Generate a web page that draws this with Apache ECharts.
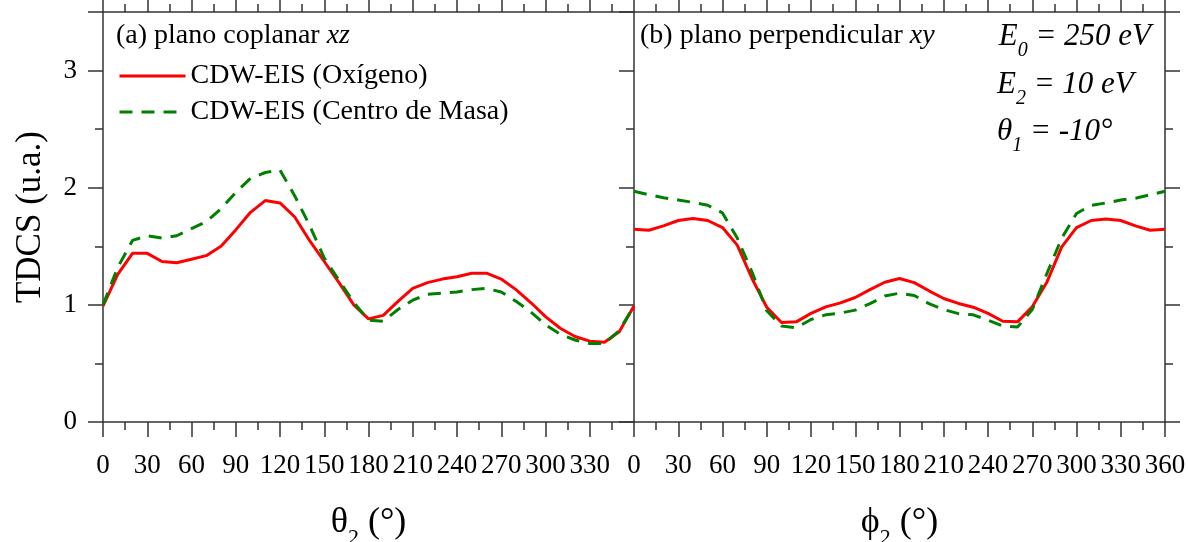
<!DOCTYPE html>
<html>
<head>
<meta charset="utf-8">
<script src="https://cdn.jsdelivr.net/npm/echarts@6/dist/echarts.min.js"></script>
<style>
html,body{margin:0;padding:0;background:#fff;}
#chart{width:1188px;height:542px;}
</style>
</head>
<body>
<div id="chart"></div>
<script>
// ---- data ----
const angles = [0,10,20,30,40,50,60,70,80,90,100,110,120,130,140,150,160,170,180,190,200,210,220,230,240,250,260,270,280,290,300,310,320,330,340,350,360];
const xTicks = [0,30,60,90,120,150,180,210,240,270,300,330,360];
const yTicks = [0,1,2,3];
// (a) plano coplanar xz
const redLeft = [0.99,1.26,1.44,1.44,1.37,1.36,1.39,1.42,1.50,1.64,1.79,1.89,1.87,1.75,1.55,1.37,1.19,1.00,0.88,0.91,1.03,1.14,1.19,1.22,1.24,1.27,1.27,1.22,1.13,1.02,0.90,0.80,0.73,0.69,0.68,0.77,0.99];
const greenLeft = [1.00,1.32,1.55,1.59,1.57,1.59,1.65,1.71,1.82,1.96,2.08,2.13,2.15,1.93,1.68,1.40,1.21,1.02,0.87,0.86,0.96,1.04,1.09,1.10,1.11,1.13,1.14,1.11,1.03,0.94,0.83,0.75,0.70,0.67,0.67,0.78,0.99];
// (b) plano perpendicular xy
const redRight = [1.645,1.637,1.674,1.72,1.737,1.72,1.66,1.51,1.225,0.98,0.85,0.855,0.927,0.983,1.017,1.063,1.13,1.193,1.225,1.19,1.12,1.054,1.012,0.98,0.927,0.86,0.855,0.983,1.196,1.495,1.66,1.72,1.733,1.72,1.674,1.637,1.645];
const greenRight = [1.97,1.94,1.915,1.895,1.875,1.85,1.785,1.57,1.28,0.95,0.82,0.805,0.875,0.915,0.93,0.955,1.01,1.075,1.10,1.08,1.01,0.96,0.925,0.915,0.87,0.82,0.81,0.96,1.27,1.57,1.78,1.85,1.87,1.895,1.91,1.94,1.97];
const seriesNames = ['CDW-EIS (Oxígeno)','CDW-EIS (Centro de Masa)'];

const FONT = '"Liberation Serif", "Times New Roman", serif';
const AX = '#333';
const pairs = arr => angles.map((a,i)=>[a, arr[i]]);

function xAx(grid, pos, labels, name, showMax){
  return {
    type:'value', gridIndex:grid, position:pos, min:0, max:360, interval:30,
    axisLine:{show:true, onZero:false, lineStyle:{color:AX, width:1.5}},
    axisTick:{show:true, inside:false, length:15, lineStyle:{color:AX, width:1.5}},
    minorTick:{show:true, splitNumber:2, length:8, lineStyle:{color:AX, width:1.5}},
    splitLine:{show:false}, minorSplitLine:{show:false},
    axisLabel:{show:labels, margin:30, fontFamily:FONT, fontSize:27, color:'#000',
      showMinLabel:true, showMaxLabel:showMax},
    name: name || '', nameLocation:'middle', nameGap:75,
    nameTextStyle:{fontFamily:FONT, fontSize:36, color:'#000',
      rich:{g:{fontFamily:FONT,fontSize:36,lineHeight:40,color:'#000'},
            s:{fontFamily:FONT,fontSize:22,lineHeight:52,verticalAlign:'bottom',color:'#000'}}}
  };
}
function yAx(grid, pos, labels, name){
  return {
    type:'value', gridIndex:grid, position:pos, min:0, max:3.5, interval:1,
    axisLine:{show:true, onZero:false, lineStyle:{color:AX, width:1.5}},
    axisTick:{show:true, inside:false, length:15, lineStyle:{color:AX, width:1.5}},
    minorTick:{show:true, splitNumber:2, length:8, lineStyle:{color:AX, width:1.5}},
    splitLine:{show:false}, minorSplitLine:{show:false},
    axisLabel:{show:labels, margin:26, fontFamily:FONT, fontSize:27, color:'#000',
      showMaxLabel:false,
      formatter: v => (yTicks.indexOf(v) >= 0 ? String(v) : '')},
    name: name || '', nameLocation:'middle', nameGap:55, nameRotate:90,
    nameTextStyle:{fontFamily:FONT, fontSize:35, color:'#000'}
  };
}

const chart = echarts.init(document.getElementById('chart'), null, {renderer:'canvas'});
const option = {
  backgroundColor:'#fff',
  animation:false,
  grid:[
    {left:103, top:12, width:531, height:410, containLabel:false, outerBoundsMode:'none'},
    {left:634, top:12, width:531, height:410, containLabel:false, outerBoundsMode:'none'}
  ],
  xAxis:[
    xAx(0,'bottom',true,'{g|θ}{s|2}{g| (°)}',false),
    xAx(0,'top',false,'',false),
    xAx(1,'bottom',true,'{g|ϕ}{s|2}{g| (°)}',true),
    xAx(1,'top',false,'',false)
  ],
  yAxis:[
    yAx(0,'left',true,'TDCS (u.a.)'),
    yAx(1,'left',false,''),
    yAx(1,'right',false,'')
  ],
  legend:{
    data:seriesNames, orient:'vertical', left:113, top:57, itemGap:8,
    itemWidth:66, itemHeight:14,
    itemStyle:{color:'transparent', borderColor:'transparent', borderWidth:0},
    lineStyle:{width:3},
    textStyle:{fontFamily:FONT, fontSize:28, color:'#000'}
  },
  series:[
    {name:seriesNames[0], type:'line', xAxisIndex:0, yAxisIndex:0, data:pairs(redLeft),
      symbol:'none', lineStyle:{color:'#ff0000', width:3}, itemStyle:{color:'#ff0000'}},
    {name:seriesNames[1], type:'line', xAxisIndex:0, yAxisIndex:0, data:pairs(greenLeft),
      symbol:'none', lineStyle:{color:'#008000', width:3, type:[13,9]}, itemStyle:{color:'#008000'}},
    {name:seriesNames[0], type:'line', xAxisIndex:2, yAxisIndex:1, data:pairs(redRight),
      symbol:'none', lineStyle:{color:'#ff0000', width:3}, itemStyle:{color:'#ff0000'}},
    {name:seriesNames[1], type:'line', xAxisIndex:2, yAxisIndex:1, data:pairs(greenRight),
      symbol:'none', lineStyle:{color:'#008000', width:3, type:[13,9]}, itemStyle:{color:'#008000'}}
  ],
  graphic:[
    {type:'text', left:116, top:22, style:{
      text:'{n|(a) plano coplanar }{i|xz}',
      rich:{n:{fontFamily:FONT,fontSize:28,fill:'#000'}, i:{fontFamily:FONT,fontSize:28,fontStyle:'italic',fill:'#000'}}}},
    {type:'text', left:640, top:22, style:{
      text:'{n|(b) plano perpendicular }{i|xy}',
      rich:{n:{fontFamily:FONT,fontSize:28,fill:'#000'}, i:{fontFamily:FONT,fontSize:28,fontStyle:'italic',fill:'#000'}}}},
    {type:'text', right:37, top:21, style:{
      text:'{i|E}{s|0}{i| = 250 eV}',
      rich:{i:{fontFamily:FONT,fontSize:31,fontStyle:'italic',lineHeight:35,fill:'#000'},
            s:{fontFamily:FONT,fontSize:20,fontStyle:'italic',lineHeight:49,verticalAlign:'bottom',fill:'#000'}}}},
    {type:'text', left:997, top:69, style:{
      text:'{i|E}{s|2}{i| = 10 eV}',
      rich:{i:{fontFamily:FONT,fontSize:31,fontStyle:'italic',lineHeight:35,fill:'#000'},
            s:{fontFamily:FONT,fontSize:20,fontStyle:'italic',lineHeight:49,verticalAlign:'bottom',fill:'#000'}}}},
    {type:'text', left:997, top:116, style:{
      text:'{i|θ}{s|1}{i| = -10°}',
      rich:{i:{fontFamily:FONT,fontSize:31,fontStyle:'italic',lineHeight:35,fill:'#000'},
            s:{fontFamily:FONT,fontSize:20,fontStyle:'italic',lineHeight:49,verticalAlign:'bottom',fill:'#000'}}}}
  ]
};
chart.setOption(option);
</script>
</body>
</html>
